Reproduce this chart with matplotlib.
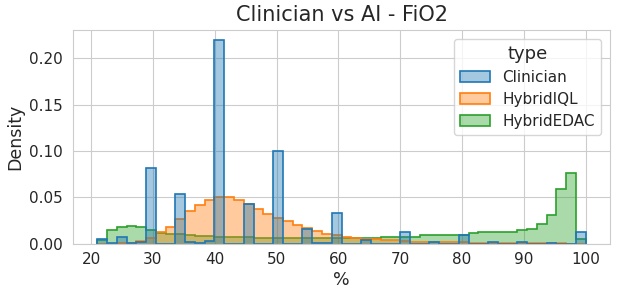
import matplotlib
matplotlib.use('Agg')
import matplotlib.pyplot as plt
import seaborn as sns
import numpy as np
from matplotlib.patches import Patch

# 50 bins from 21 to 100 (% FiO2), density per bin
bin_lo, bin_hi, n_bins = 21, 100, 50
edges = np.linspace(bin_lo, bin_hi, n_bins + 1)

clinician = [0.005, 0.001, 0.0075, 0.001, 0.0025, 0.082, 0.0, 0.0, 0.054, 0.002,
             0.001, 0.003, 0.220, 0.0, 0.0, 0.0435, 0.0, 0.0, 0.1006, 0.0,
             0.0, 0.0158, 0.0005, 0.0005, 0.0338, 0.0, 0.0, 0.0037, 0.0, 0.0,
             0.0, 0.013, 0.0, 0.0, 0.0025, 0.0, 0.0, 0.009, 0.0, 0.0,
             0.0015, 0.0, 0.0, 0.0025, 0.0, 0.0, 0.0005, 0.0, 0.0, 0.0133]

hybrid_iql = [0.0, 0.0, 0.0005, 0.001, 0.003, 0.006, 0.013, 0.018, 0.0266, 0.035,
              0.042, 0.047, 0.051, 0.0507, 0.047, 0.0435, 0.0374, 0.0317, 0.0274, 0.0245,
              0.020, 0.0166, 0.0137, 0.011, 0.0094, 0.0076, 0.0065, 0.005, 0.005, 0.0037,
              0.0037, 0.003, 0.0022, 0.002, 0.002, 0.0018, 0.0016, 0.0015, 0.0013, 0.0012,
              0.001, 0.001, 0.0009, 0.0008, 0.0007, 0.0006, 0.0005, 0.0004, 0.0003, 0.0003]

hybrid_edac = [0.0045, 0.0148, 0.0177, 0.0188, 0.0177, 0.0148, 0.012, 0.011, 0.0105, 0.0094,
               0.0088, 0.0088, 0.0072, 0.007, 0.007, 0.0069, 0.0068, 0.0065, 0.006, 0.0058,
               0.0058, 0.0058, 0.0058, 0.006, 0.006, 0.006, 0.0065, 0.0065, 0.0068, 0.007,
               0.0072, 0.0075, 0.0076, 0.009, 0.009, 0.010, 0.010, 0.010, 0.0112, 0.0126,
               0.0133, 0.0133, 0.0133, 0.0144, 0.0155, 0.0209, 0.0306, 0.0594, 0.076, 0.0054]

types = ['Clinician', 'HybridIQL', 'HybridEDAC']
series = [clinician, hybrid_iql, hybrid_edac]
colors = ['#1f77b4', '#ff7f0e', '#2ca02c']

sns.set_style('whitegrid')
plt.rcParams['font.family'] = ['DejaVu Sans']

fig, ax = plt.subplots(figsize=(6.17, 2.97), dpi=100)
fig.subplots_adjust(left=0.118, right=0.989, top=0.9, bottom=0.179)

# draw last hue first, like seaborn's layered histplot
for name, vals, c in reversed(list(zip(types, series, colors))):
    ax.stairs(vals, edges, fill=True, color=c, alpha=0.4, linewidth=0)
    ax.stairs(vals, edges, fill=False, color=c, linewidth=1.2, baseline=0)

ax.set_xlim(bin_lo - 0.05 * (bin_hi - bin_lo), bin_hi + 0.05 * (bin_hi - bin_lo))
ax.set_ylim(0, 0.231)
ax.set_xticks(np.arange(20, 101, 10))
ax.set_yticks([0.0, 0.05, 0.10, 0.15, 0.20])
ax.set_yticklabels(['0.00', '0.05', '0.10', '0.15', '0.20'])
ax.tick_params(labelsize=11, colors='#262626', length=0)
ax.tick_params(axis='x', pad=6)
ax.tick_params(axis='y', pad=7)

ax.set_title('Clinician vs AI - FiO2', fontsize=15, color='#262626')
ax.set_xlabel('%', fontsize=12.5, color='#262626', labelpad=3)
ax.set_ylabel('Density', fontsize=12.5, color='#262626', labelpad=4)

handles = [Patch(facecolor=matplotlib.colors.to_rgba(c, 0.4), edgecolor=c, linewidth=1.2)
           for c in colors]
leg = ax.legend(handles, types, title='type', loc='upper right', fontsize=11,
                title_fontsize=13, frameon=True, labelspacing=0.45,
                borderaxespad=0.6)
for t in leg.get_texts():
    t.set_color('#262626')
leg.get_title().set_color('#262626')

plt.savefig('out.png', dpi=100)
plt.close()
